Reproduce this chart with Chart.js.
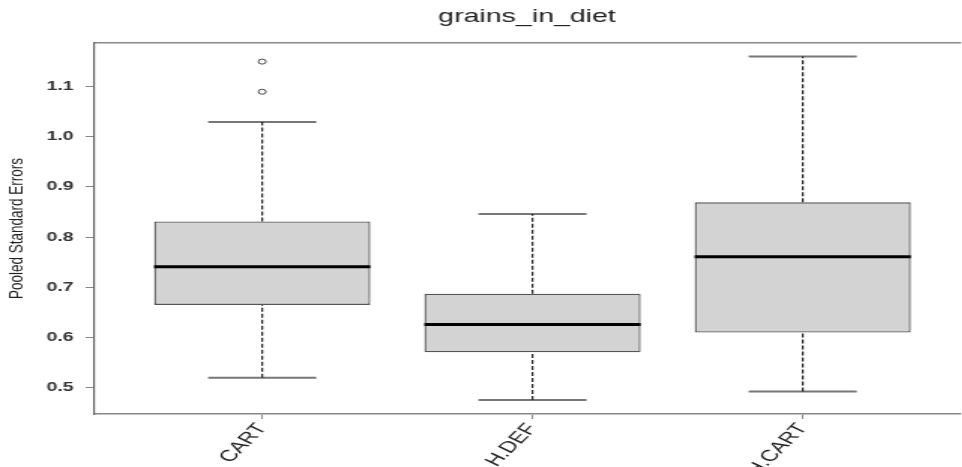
<!DOCTYPE html>
<html>
<head>
<meta charset="utf-8">
<script src="https://cdn.jsdelivr.net/npm/chart.js@4/dist/chart.umd.min.js"></script>
<style>
  body { margin: 0; background: #fff; overflow: hidden; }
  /* the reference is a stretched R plot: draw narrow, show wide (right edge runs off the page) */
  canvas { display: block; width: 967px !important; height: 467px !important; }
</style>
</head>
<body>
<canvas id="box-chart" width="644" height="467" style="width:967px;height:467px"></canvas>
<script>
// boxplot of pooled standard errors, one box per method
const categories = ['CART', 'H.DEF', 'H.CART'];
const whiskerLow = [0.520, 0.476, 0.493];
const q1 = [0.665, 0.571, 0.610];
const median = [0.741, 0.626, 0.761];
const q3 = [0.831, 0.687, 0.869];
const whiskerHigh = [1.029, 0.846, 1.159];
const outliers = [[1.089, 1.149], [], []];
const yTicks = [0.5, 0.6, 0.7, 0.8, 0.9, 1.0, 1.1];

const halfBox = 0.4;
const halfCap = 0.2;
const gap = (x) => ({ x: x, y: null });

// boxes as floating bars
const boxData = categories.map((c, i) => ({ x: i + 1, y: [q1[i], q3[i]] }));

const medianData = categories.flatMap((c, i) => [
  { x: i + 1 - halfBox, y: median[i] }, { x: i + 1 + halfBox, y: median[i] }, gap(i + 1)
]);

const whiskerData = categories.flatMap((c, i) => [
  { x: i + 1, y: q3[i] }, { x: i + 1, y: whiskerHigh[i] }, gap(i + 1),
  { x: i + 1, y: whiskerLow[i] }, { x: i + 1, y: q1[i] }, gap(i + 1)
]);

const capData = categories.flatMap((c, i) => [
  { x: i + 1 - halfCap, y: whiskerHigh[i] }, { x: i + 1 + halfCap, y: whiskerHigh[i] }, gap(i + 1),
  { x: i + 1 - halfCap, y: whiskerLow[i] }, { x: i + 1 + halfCap, y: whiskerLow[i] }, gap(i + 1)
]);

const outlierData = categories.flatMap((c, i) => outliers[i].map(v => ({ x: i + 1, y: v })));

const axisColor = '#888';
const xMin = 0.38;
const xMax = 3.58;

const ctx = document.getElementById('box-chart');
const boxChart = new Chart(ctx, {
  type: 'bar',
  data: {
    datasets: [{
      type: 'bar',
      data: boxData,
      backgroundColor: '#d3d3d3',
      borderColor: '#555',
      borderWidth: 1.3,
      borderSkipped: false,
      categoryPercentage: 1,
      barPercentage: 0.8,
      order: 3
    }, {
      type: 'line',
      data: whiskerData,
      borderColor: '#222',
      borderWidth: 1.2,
      borderDash: [4, 2],
      pointRadius: 0,
      spanGaps: false,
      order: 2
    }, {
      type: 'line',
      data: capData,
      borderColor: '#777',
      borderWidth: 2,
      pointRadius: 0,
      spanGaps: false,
      order: 2
    }, {
      type: 'line',
      data: medianData,
      borderColor: '#000',
      borderWidth: 3,
      pointRadius: 0,
      spanGaps: false,
      order: 1
    }, {
      type: 'scatter',
      data: outlierData,
      pointStyle: 'circle',
      pointRadius: 2.5,
      backgroundColor: '#fff',
      borderColor: '#444',
      borderWidth: 1,
      order: 1
    }]
  },
  options: {
    responsive: false,
    animation: false,
    layout: { padding: 0 },
    plugins: {
      legend: { display: false },
      tooltip: { enabled: false }
    },
    scales: {
      x: {
        type: 'linear',
        offset: false,
        min: xMin,
        max: xMax,
        afterBuildTicks: (scale) => { scale.ticks = categories.map((c, i) => ({ value: i + 1 })); },
        afterFit: (scale) => { scale.height = 53; },
        ticks: {
          callback: (v) => categories[v - 1],
          minRotation: 55,
          maxRotation: 55,
          padding: 1,
          color: '#222',
          font: { family: 'Liberation Sans, Arial, sans-serif', size: 16 }
        },
        grid: { offset: false, drawOnChartArea: false, tickLength: 5, color: axisColor, lineWidth: 1 },
        border: { color: axisColor, width: 1.5 }
      },
      // top frame line, also carries the main title centred over the plot
      xTop: {
        type: 'linear',
        position: 'top',
        offset: false,
        min: xMin,
        max: xMax,
        ticks: { display: false },
        grid: { display: false },
        border: { color: axisColor, width: 1.5 },
        afterFit: (scale) => { scale.height = 43; },
        title: {
          display: true,
          text: 'grains_in_diet',
          color: '#222',
          font: { family: 'Liberation Sans, Arial, sans-serif', size: 19, weight: 'normal' },
          padding: { top: 5, bottom: 0 }
        }
      },
      y: {
        min: 0.448,
        max: 1.186,
        afterBuildTicks: (scale) => { scale.ticks = yTicks.map(v => ({ value: v })); },
        afterFit: (scale) => { scale.width = 63; },
        ticks: {
          callback: (v) => v.toFixed(1),
          padding: 8,
          color: '#333',
          font: { family: 'Liberation Sans, Arial, sans-serif', size: 13, weight: 'bold' }
        },
        grid: { drawOnChartArea: false, tickLength: 6, color: axisColor, lineWidth: 1 },
        border: { color: '#666', width: 1.2 },
        title: {
          display: true,
          text: 'Pooled Standard Errors',
          color: '#222',
          font: { family: '"Liberation Sans Narrow", "Liberation Sans", sans-serif', size: 13.5 },
          padding: { top: 3, bottom: 0 }
        }
      }
    }
  }
});
</script>
</body>
</html>
